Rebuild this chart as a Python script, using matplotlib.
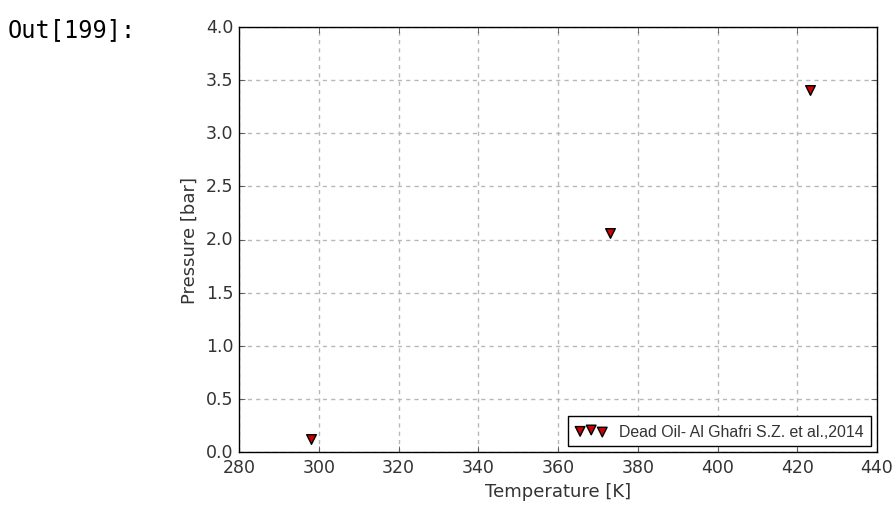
import matplotlib
matplotlib.use('Agg')
import matplotlib.pyplot as plt

# Dead oil vapour pressure data
temperature = [298.15, 373.15, 423.15]
pressure = [0.12, 2.06, 3.41]
series_label = "Dead Oil- Al Ghafri S.Z. et al.,2014"

plt.style.use('classic')
fig = plt.figure(figsize=(8.95, 5.10), dpi=100, facecolor='white')
ax = fig.add_axes([239/895, 1 - 453/510, (877 - 239)/895, (453 - 28)/510])

ax.scatter(temperature, pressure, marker='v', s=48, c='#cc0000',
           edgecolors='black', linewidths=1.0, label=series_label, zorder=3)

ax.set_xlim(280, 440)
ax.set_ylim(0, 4.0)
ax.set_xticks(range(280, 441, 20))
ax.set_yticks([i * 0.5 for i in range(9)])
ax.tick_params(labelsize=12.5, colors='#333333', labelcolor='#333333')
ax.grid(True, color='#b8b8b8', linestyle=(0, (3, 3)), linewidth=1.0)
ax.set_axisbelow(True)

ax.set_xlabel("Temperature [K]", fontsize=13, color='#333333')
ax.set_ylabel("Pressure [bar]", fontsize=13, color='#333333')

leg = ax.legend(loc='lower right', scatterpoints=3,
                scatteryoffsets=[0.375, 0.5, 0.3125],
                prop={'family': 'Liberation Sans', 'size': 11.4},
                borderpad=0.45, borderaxespad=0.4, handletextpad=0.75,
                handlelength=2.0, fancybox=False)
for t in leg.get_texts():
    t.set_color('#333333')

fig.text(8/895, 1 - 30/510, "Out[199]:", family='DejaVu Sans Mono',
         fontsize=17, va='center', ha='left', color='black')

fig.savefig('out.png', dpi=100, facecolor='white')
